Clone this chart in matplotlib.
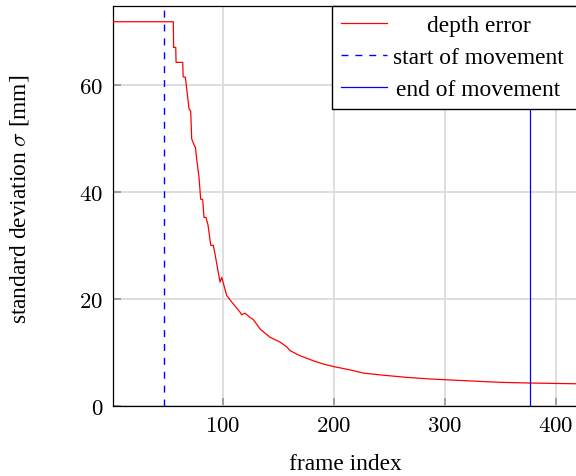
import numpy as np
import matplotlib
matplotlib.use('Agg')
from matplotlib import pyplot as plt

# depth error curve (frame index, sigma in mm)
frames = [1, 55.0, 55.3, 57.2, 57.5, 63.5, 63.9, 65.9, 69.2, 70.7, 71.6, 74.0, 75.0,
          76.1, 78.2, 79.7, 81.5, 82.7, 84.5, 86.3, 88.8, 91.1, 92.6, 95.6, 97.2,
          98.7, 103.2, 107.7, 115.2, 116.7, 119.7, 124.2, 127.2, 133.5, 142.2,
          151.3, 157.3, 160.3, 169.3, 181.3, 190.3, 200.0, 214.4, 226.4, 244.5,
          265.6, 286.6, 300.0, 349.6, 377.0, 419.0]
sigma = [71.8, 71.8, 67.0, 67.0, 64.2, 64.2, 61.5, 61.4, 55.5, 55.1, 49.9, 48.6, 48.3,
         46.1, 42.7, 38.6, 38.6, 35.2, 35.2, 33.8, 30.0, 30.0, 28.4, 24.9, 23.1,
         24.0, 20.6, 19.4, 17.5, 17.0, 17.3, 16.5, 16.1, 14.3, 12.8,
         11.9, 11.0, 10.3, 9.35, 8.4, 7.8, 7.3, 6.7, 6.1, 5.7,
         5.3, 5.0, 4.86, 4.37, 4.24, 4.1]

move_start = 47
move_end = 377

xticks = [100, 200, 300, 400]
yticks = [0, 20, 40, 60]

fs = 16.8
plt.rcParams['font.family'] = 'Liberation Serif'
plt.rcParams['mathtext.fontset'] = 'cm'
plt.rcParams['font.size'] = fs

fig = plt.figure(figsize=(5.76, 4.77), dpi=100)
ax = fig.add_axes([113/576, (477-406.7)/477, 464/576, 400/477])

ax.plot(frames, sigma, color='red', lw=0.9, label='depth error', zorder=3)
ax.axvline(move_start, color='blue', lw=1.0, ls=(0, (5, 5)), label='start of movement', zorder=3)
ax.axvline(move_end, color='blue', lw=0.9, label='end of movement', zorder=3)

ax.set_xlim(0.6, 419.2)
ax.set_ylim(0, 74.8)
ax.set_xticks(xticks)
ax.set_xticklabels(['$%d$' % t for t in xticks])
ax.set_yticks(yticks)
ax.set_yticklabels(['$%d$' % t for t in yticks])
ax.tick_params(direction='in', length=6, width=1.3, color='#999999', pad=7, labelsize=16.5)
ax.grid(True, color='#d9d9d9', lw=1.2, zorder=0)
ax.set_axisbelow(True)
for s in ax.spines.values():
    s.set_linewidth(0.9)
    s.set_color('black')

ax.set_xlabel('frame index')
ax.xaxis.set_label_coords(0.5, -(465-406.7)/400)
ax.xaxis.label.set_va('center')
ax.set_ylabel('standard deviation $\\sigma$ [mm]')
ax.yaxis.set_label_coords((20-113)/464, (406.7-199)/400)
ax.yaxis.label.set_va('center')

pad = 0.25
extra = 0.55
leg = ax.legend(loc='upper left', bbox_to_anchor=(0.471, 1.0), borderaxespad=0,
                fancybox=False, framealpha=1, edgecolor='black', handlelength=2.0,
                handletextpad=pad + extra, borderpad=0.39, labelspacing=0.46)
leg.get_frame().set_linewidth(1.0)

# centre the legend labels like pgfplots does
fig.canvas.draw()
widths = [t.get_window_extent().width for t in leg.texts]
wmax = max(widths)
shift = extra * fs * fig.dpi / 72
for t, w in zip(leg.texts, widths):
    t.set_x((wmax - w) / 2 - shift)

fig.savefig('out.png', dpi=100)
